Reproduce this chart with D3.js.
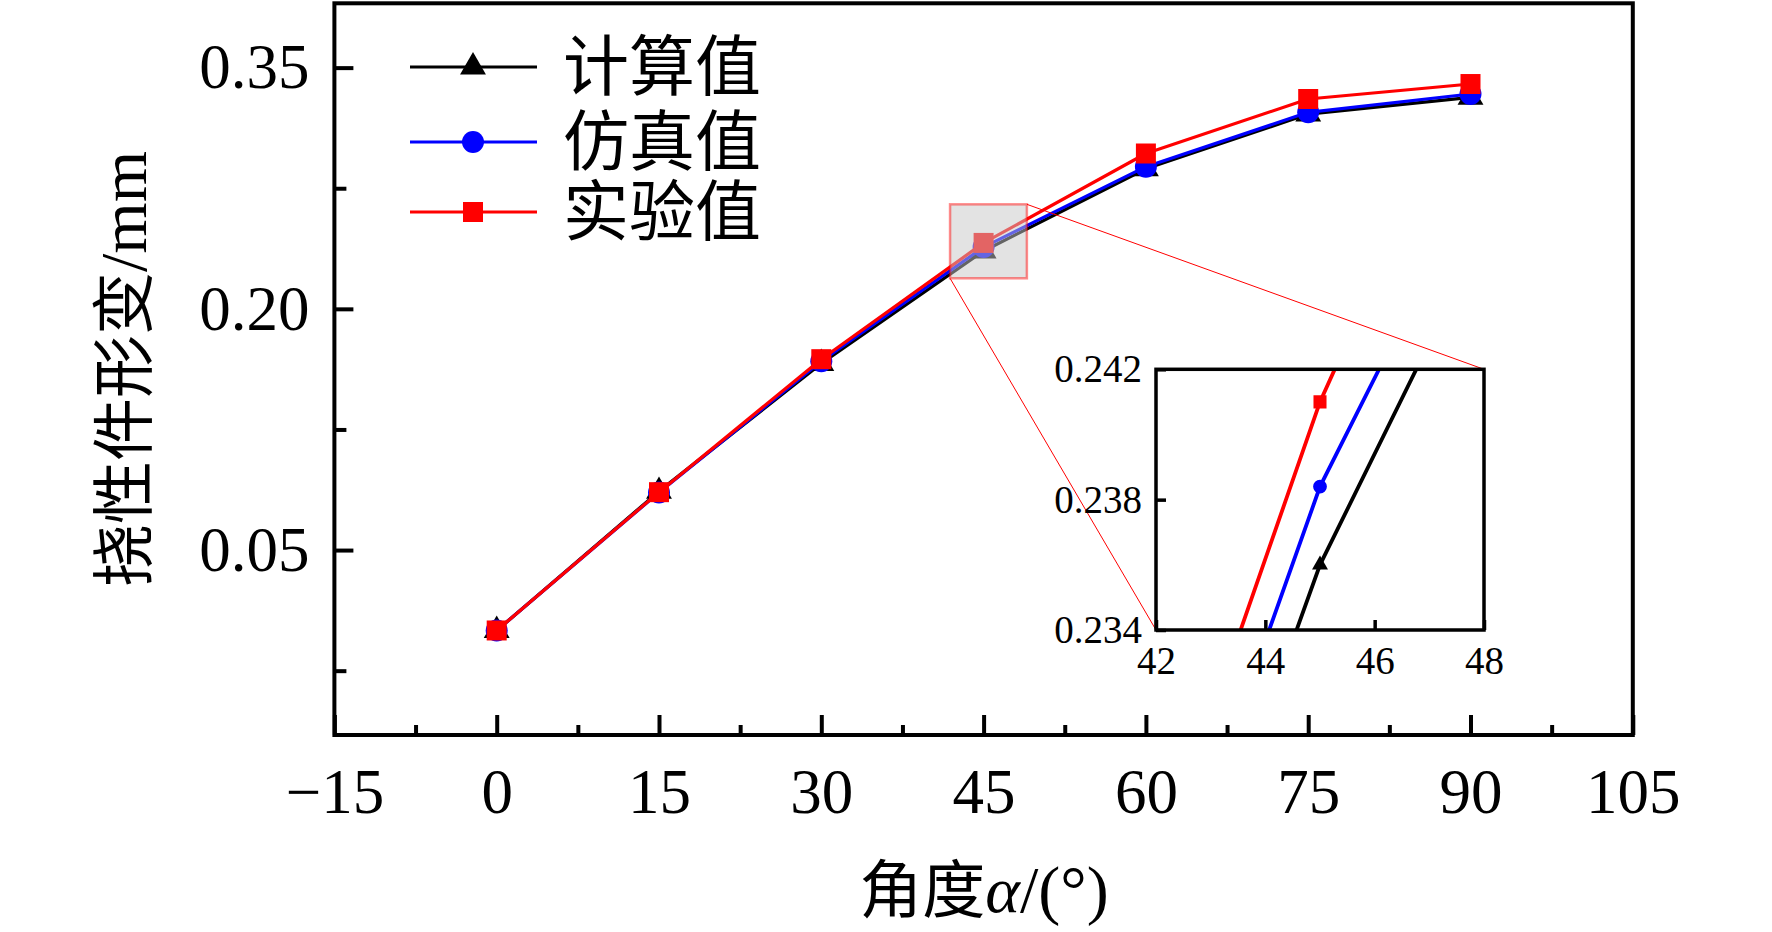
<!DOCTYPE html>
<html>
<head>
<meta charset="utf-8">
<script src="https://cdn.jsdelivr.net/npm/d3@7"></script>
<style>
  body { margin: 0; background: #fff; }
  .num { font-family: "Liberation Serif", "Times New Roman", serif; }
  .cjk { font-family: "Noto Sans CJK SC", sans-serif; }
</style>
</head>
<body>
<svg id="chart" width="1772" height="932"></svg>
<script>
// data
angles = [0, 15, 30, 45, 60, 75, 90];
calcVals = [0.000, 0.0865, 0.1660, 0.2360, 0.2871, 0.3211, 0.3315];
simVals = [0.000, 0.0858, 0.1674, 0.2384, 0.2884, 0.3222, 0.3336];
expVals = [0.000, 0.0860, 0.1687, 0.2410, 0.2966, 0.3305, 0.3398];
seriesNames = ["计算值", "仿真值", "实验值"];

xMajor = [-15, 0, 15, 30, 45, 60, 75, 90, 105];
xMinor = [-7.5, 7.5, 22.5, 37.5, 52.5, 67.5, 82.5, 97.5];
yMajor = [0.05, 0.20, 0.35];
yMinor = [-0.025, 0.125, 0.275];

insetXTicks = [42, 44, 46, 48];
insetYTicks = [0.234, 0.238, 0.242];
insetXDomain = [42, 48];
insetYDomain = [0.234, 0.242];
zoomBoxX = [41.9, 49];
zoomBoxY = [0.219, 0.265];

let series = [
  {name: seriesNames[0], vals: calcVals, color: "#000000", shape: "tri"},
  {name: seriesNames[1], vals: simVals, color: "#0000ff", shape: "circle"},
  {name: seriesNames[2], vals: expVals, color: "#ff0000", shape: "square"}
];

let svg = d3.select("#chart");
let x = d3.scaleLinear().domain([-15, 105]).range([334.4, 1632.8]);
let y = d3.scaleLinear().domain([-0.065, 0.39]).range([735, 3.3]);

function symbolFor(shape, big) {
  if (shape == "tri") return d3.symbol().type(d3.symbolTriangle).size(big ? 290 : 110);
  if (shape == "circle") return d3.symbol().type(d3.symbolCircle).size(big ? 380 : 150);
  return d3.symbol().type(d3.symbolSquare).size(big ? 400 : 170);
}

/* MAIN AXES */
let xAxisMajor = d3.axisBottom(x).tickValues(xMajor).tickSize(-20).tickSizeOuter(0).tickPadding(33).tickFormat(d3.format("d"));
let xAxisMinor = d3.axisBottom(x).tickValues(xMinor).tickSize(-10).tickSizeOuter(0).tickFormat("");
let yAxisMajor = d3.axisLeft(y).tickValues(yMajor).tickSize(-19).tickSizeOuter(0).tickPadding(25).tickFormat(d3.format(".2f"));
let yAxisMinor = d3.axisLeft(y).tickValues(yMinor).tickSize(-12).tickSizeOuter(0).tickFormat("");

let gx = svg.append("g").attr("transform", "translate(0,735)").call(xAxisMajor);
svg.append("g").attr("transform", "translate(0,735)").call(xAxisMinor);
let gy = svg.append("g").attr("transform", "translate(334.4,0)").call(yAxisMajor);
svg.append("g").attr("transform", "translate(334.4,0)").call(yAxisMinor);
svg.selectAll(".domain").remove();
svg.selectAll(".tick line").attr("stroke", "#000").attr("stroke-width", 4);
gx.selectAll("text").attr("class", "num").attr("font-size", 63).attr("fill", "#000");
gy.selectAll("text").attr("class", "num").attr("font-size", 63).attr("fill", "#000");

svg.append("rect")
  .attr("x", x(-15)).attr("y", y(0.39))
  .attr("width", x(105) - x(-15)).attr("height", y(-0.065) - y(0.39))
  .attr("fill", "none").attr("stroke", "#000").attr("stroke-width", 4);

/* SERIES */
series.forEach(function (s) {
  let line = d3.line().x((d, i) => x(angles[i])).y(d => y(d));
  svg.append("path").datum(s.vals)
    .attr("d", line).attr("fill", "none")
    .attr("stroke", s.color).attr("stroke-width", 3.2).attr("stroke-linejoin", "round");
  svg.selectAll(null).data(s.vals).enter().append("path")
    .attr("d", symbolFor(s.shape, true))
    .attr("transform", (d, i) => "translate(" + x(angles[i]) + "," + y(d) + ")")
    .attr("fill", s.color);
});

/* ZOOM BOX + GUIDES */
let xi = d3.scaleLinear().domain(insetXDomain).range([1156, 1484]);
let yi = d3.scaleLinear().domain(insetYDomain).range([630, 369.3]);

svg.append("rect")
  .attr("x", x(zoomBoxX[0])).attr("y", y(zoomBoxY[1]))
  .attr("width", x(zoomBoxX[1]) - x(zoomBoxX[0])).attr("height", y(zoomBoxY[0]) - y(zoomBoxY[1]))
  .attr("fill", "#c8c8c8").attr("fill-opacity", 0.5)
  .attr("stroke", "#ff0000").attr("stroke-opacity", 0.45).attr("stroke-width", 2.5);

svg.append("line")
  .attr("x1", x(zoomBoxX[1])).attr("y1", y(zoomBoxY[1]))
  .attr("x2", xi(insetXDomain[1])).attr("y2", yi(insetYDomain[1]))
  .attr("stroke", "#ff0000").attr("stroke-width", 1);
svg.append("line")
  .attr("x1", x(zoomBoxX[0])).attr("y1", y(zoomBoxY[0]))
  .attr("x2", xi(insetXDomain[0])).attr("y2", yi(insetYDomain[0]))
  .attr("stroke", "#ff0000").attr("stroke-width", 1);

/* INSET */
let inset = svg.append("g");
inset.append("rect")
  .attr("x", xi(42)).attr("y", yi(0.242))
  .attr("width", xi(48) - xi(42)).attr("height", yi(0.234) - yi(0.242))
  .attr("fill", "#fff");
svg.append("clipPath").attr("id", "insetClip").append("rect")
  .attr("x", xi(42)).attr("y", yi(0.242))
  .attr("width", xi(48) - xi(42)).attr("height", yi(0.234) - yi(0.242));
let inner = inset.append("g").attr("clip-path", "url(#insetClip)");
series.forEach(function (s) {
  let line = d3.line().x((d, i) => xi(angles[i])).y(d => yi(d));
  inner.append("path").datum(s.vals)
    .attr("d", line).attr("fill", "none")
    .attr("stroke", s.color).attr("stroke-width", 3.8);
  inner.selectAll(null).data(s.vals).enter().append("path")
    .attr("d", symbolFor(s.shape, false))
    .attr("transform", (d, i) => "translate(" + xi(angles[i]) + "," + yi(d) + ")")
    .attr("fill", s.color);
});

let gxi = inset.append("g").attr("transform", "translate(0," + yi(0.234) + ")")
  .call(d3.axisBottom(xi).tickValues(insetXTicks).tickSize(-10).tickSizeOuter(0).tickPadding(16).tickFormat(d3.format("d")));
let gyi = inset.append("g").attr("transform", "translate(" + xi(42) + ",0)")
  .call(d3.axisLeft(yi).tickValues(insetYTicks).tickSize(-10).tickSizeOuter(0).tickPadding(14).tickFormat(d3.format(".3f")));
inset.selectAll(".domain").remove();
inset.selectAll(".tick line").attr("stroke", "#000").attr("stroke-width", 3.5);
gxi.selectAll("text").attr("class", "num").attr("font-size", 39).attr("fill", "#000");
gyi.selectAll("text").attr("class", "num").attr("font-size", 39).attr("fill", "#000");

inset.append("rect")
  .attr("x", xi(42)).attr("y", yi(0.242))
  .attr("width", xi(48) - xi(42)).attr("height", yi(0.234) - yi(0.242))
  .attr("fill", "none").attr("stroke", "#000").attr("stroke-width", 3.5);

/* LEGEND */
let legendY = [67, 142, 212];
series.forEach(function (s, i) {
  let g = svg.append("g");
  g.append("line").attr("x1", 410).attr("x2", 537).attr("y1", legendY[i]).attr("y2", legendY[i])
    .attr("stroke", s.color).attr("stroke-width", 3);
  g.append("path").attr("d", symbolFor(s.shape, true))
    .attr("transform", "translate(473," + legendY[i] + ")").attr("fill", s.color);
  g.append("text").attr("class", "cjk").attr("x", 563).attr("y", legendY[i] + 23)
    .attr("font-size", 66).attr("fill", "#000").text(s.name);
});

/* AXIS TITLES */
let xt = svg.append("text").attr("x", 984).attr("y", 912).attr("text-anchor", "middle").attr("fill", "#000");
xt.append("tspan").attr("class", "cjk").attr("font-size", 63).text("角度");
xt.append("tspan").attr("class", "num").attr("font-size", 66).attr("font-style", "italic").text("α");
xt.append("tspan").attr("class", "num").attr("font-size", 66).text("/(°)");

let yt = svg.append("text").attr("transform", "translate(146,369) rotate(-90)")
  .attr("text-anchor", "middle").attr("fill", "#000");
yt.append("tspan").attr("class", "cjk").attr("font-size", 63).text("挠性件形变");
yt.append("tspan").attr("class", "num").attr("font-size", 66).text("/mm");
</script>
</body>
</html>
